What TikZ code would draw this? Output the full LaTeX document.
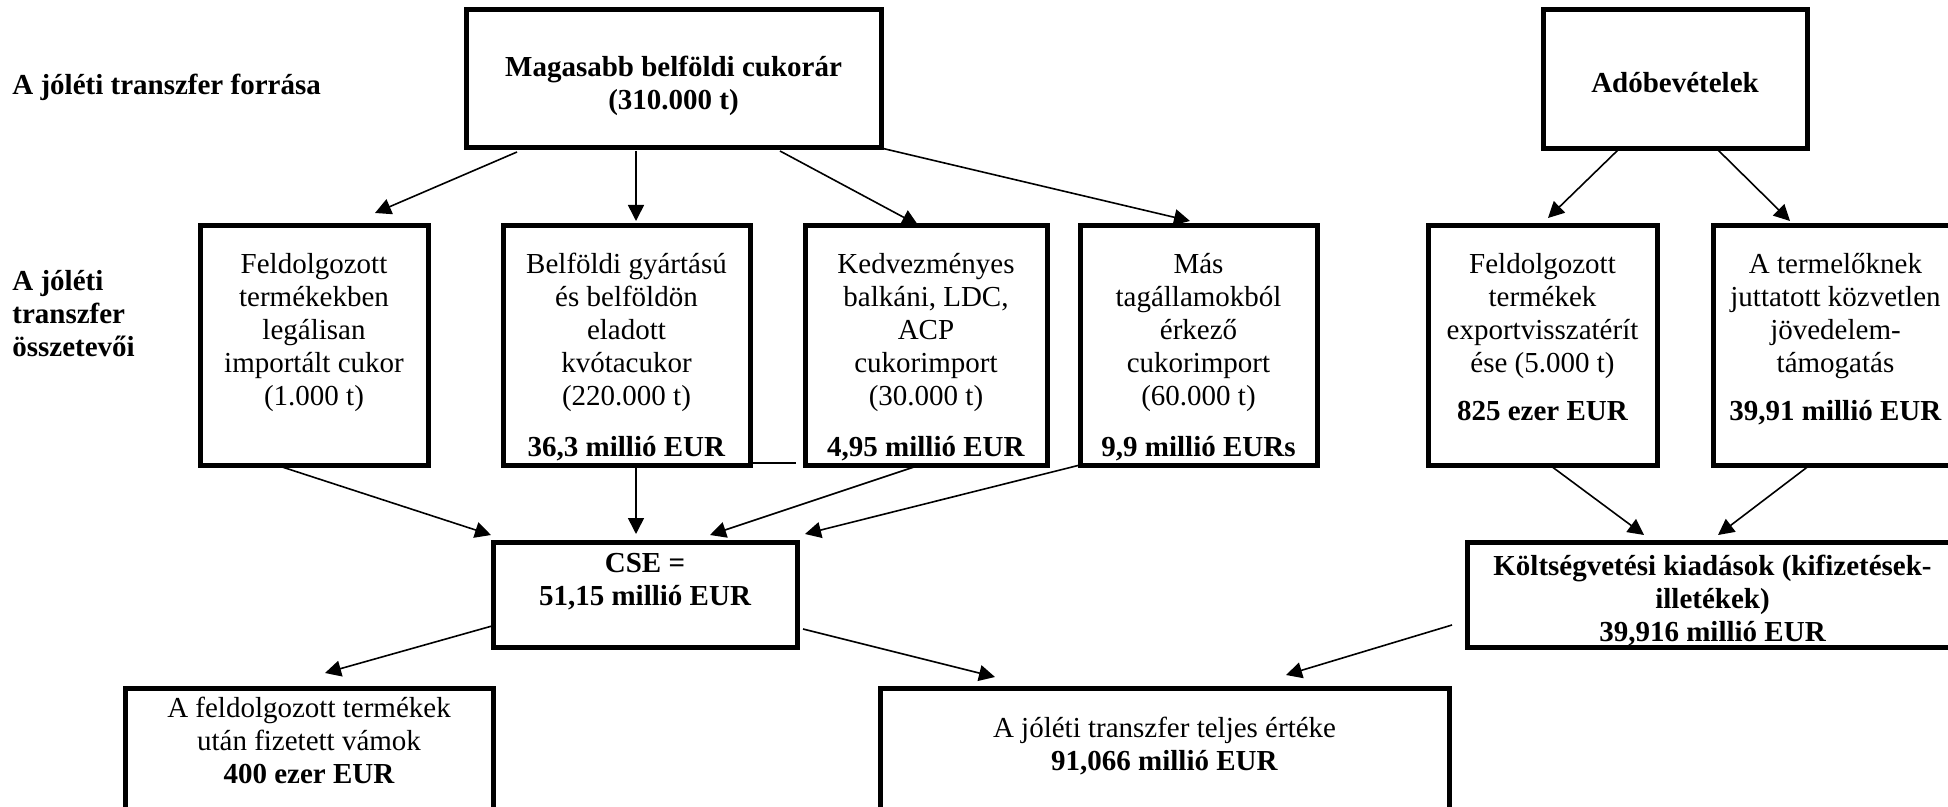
\documentclass[tikz,border=0pt]{standalone}
\usepackage{fontspec}
\setmainfont{Liberation Serif}
\usetikzlibrary{arrows.meta,calc}
\begin{document}
\begin{tikzpicture}[x=0.5pt,y=-0.5pt,
  box/.style={draw, line width=2.5pt, inner sep=0pt, outer sep=0pt},
  txt/.style={font=\fontsize{14.5}{16.5}\selectfont, align=center, inner sep=0pt},
  btxt/.style={font=\fontsize{14.5}{16.5}\selectfont\bfseries, align=center, inner sep=0pt},
  arr/.style={-{Triangle[length=8pt,width=8pt]}, line width=0.8pt},
  conn/.style={line width=0.8pt}]
\useasboundingbox (0,0) rectangle (1948,807);
\clip (0,0) rectangle (1948,807);

% boxes
\node[box, minimum width=207.5pt, minimum height=69pt] (top) at (673.5,79) {};
\node[box, minimum width=132pt, minimum height=69.5pt] (ado) at (1675,79.5) {};
\node[box, minimum width=114pt, minimum height=119.5pt] (b1) at (314,345.5) {};
\node[box, minimum width=123.5pt, minimum height=119.5pt] (b2) at (626.5,345.5) {};
\node[box, minimum width=121pt, minimum height=119.5pt] (b3) at (926,345.5) {};
\node[box, minimum width=118.5pt, minimum height=119.5pt] (b4) at (1198.5,345.5) {};
\node[box, minimum width=114.5pt, minimum height=119.5pt] (b5) at (1542.5,345.5) {};
\node[box, minimum width=122.5pt, minimum height=119.5pt] (b6) at (1835.5,345.5) {};
\node[box, minimum width=152pt, minimum height=52.5pt] (cse) at (645,594.5) {};
\node[box, minimum width=245.5pt, minimum height=52.5pt] (kolt) at (1712.5,594.5) {};
\node[box, minimum width=184pt, minimum height=71pt] (bl) at (309,759) {};
\node[box, minimum width=284.5pt, minimum height=71pt] (br) at (1164.5,759) {};

% texts
\node[btxt, anchor=north west] (lab1) at (12,74) {A jóléti transzfer forrása};
\node[btxt, anchor=north west, align=left] (lab2) at (12,270) {A jóléti\\transzfer\\összetevői};
\node[btxt, anchor=north] (toptxt) at (673.5,56) {Magasabb belföldi cukorár\\(310.000 t)};
\node[btxt, anchor=north] (adotxt) at (1675,72) {Adóbevételek};
\node[txt, anchor=north] (b1txt) at (314,253) {Feldolgozott\\termékekben\\legálisan\\importált cukor\\(1.000 t)};
\node[txt, anchor=north] (b2txt) at (626.5,253) {Belföldi gyártású\\és belföldön\\eladott\\kvótacukor\\(220.000 t)\\[9pt]\textbf{36,3 millió EUR}};
\node[txt, anchor=north] (b3txt) at (926,253) {Kedvezményes\\balkáni, LDC,\\ACP\\cukorimport\\(30.000 t)\\[9pt]\textbf{4,95 millió EUR}};
\node[txt, anchor=north] (b4txt) at (1198.5,253) {Más\\tagállamokból\\érkező\\cukorimport\\(60.000 t)\\[9pt]\textbf{9,9 millió EURs}};
\node[txt, anchor=north] (b5txt) at (1542.5,253) {Feldolgozott\\termékek\\exportvisszatérít\\ése (5.000 t)\\[7.5pt]\textbf{825 ezer EUR}};
\node[txt, anchor=north] (b6txt) at (1835.5,253) {A termelőknek\\juttatott közvetlen\\jövedelem-\\támogatás\\[7.5pt]\textbf{39,91 millió EUR}};
\node[btxt, anchor=north] (csetxt) at (645,553) {CSE =\\51,15 millió EUR};
\node[btxt, anchor=north] (kolttxt) at (1712.5,555) {Költségvetési kiadások (kifizetések-\\illetékek)\\39,916 millió EUR};
\node[txt, anchor=north] (bltxt) at (309,697) {A feldolgozott termékek\\után fizetett vámok\\\textbf{400 ezer EUR}};
\node[txt, anchor=north] (brtxt) at (1164.5,717) {A jóléti transzfer teljes értéke\\\textbf{91,066 millió EUR}};

% arrow ends
\coordinate (e1) at (375,213);
\coordinate (e2) at (636,221);
\coordinate (e3) at (918,225);
\coordinate (e4) at (1190,221);
\coordinate (e5) at (1548,218);
\coordinate (e6) at (1790,221);
\coordinate (e7) at (491,535);
\coordinate (e8) at (636,534);
\coordinate (e9) at (710,535);
\coordinate (e10) at (805,534);
\coordinate (e11) at (1644,535);
\coordinate (e12) at (1718,535);
\coordinate (e13) at (325,673);
\coordinate (e14) at (995,677);
\coordinate (e15) at (1286,675);

% connectors
\draw[arr] ($(top.south west)+(51,4)$) -- (e1);
\draw[arr] ($(top.south west)+(170,3)$) -- (e2);
\draw[arr] ($(top.south west)+(314,3)$) -- (e3);
\draw[arr] (top.south east) -- (e4);
\draw[arr] ($(ado.south west)+(76,0)$) -- (e5);
\draw[arr] ($(ado.south west)+(175,1)$) -- (e6);
\draw[arr] ($(b1.south west)+(76,0)$) -- (e7);
\draw[arr] ($(b2.south west)+(133,0)$) -- (e8);
\draw[arr] ($(b3.south west)+(112,1)$) -- (e9);
\draw[arr] (b4.south west) -- (e10);
\draw[arr] ($(b5.south west)+(123,1)$) -- (e11);
\draw[arr] ($(b6.south west)+(97,0)$) -- (e12);
\draw[arr] ($(cse.south west)+(-1,-21)$) -- (e13);
\draw[arr] ($(cse.south east)+(6,-18)$) -- (e14);
\draw[arr] ($(kolt.south west)+(-15,-22)$) -- (e15);
\draw[conn] ($(b2.south east)+(2,-2)$) -- ($(b3.south west)+(-9,-2)$);
\end{tikzpicture}
\end{document}
